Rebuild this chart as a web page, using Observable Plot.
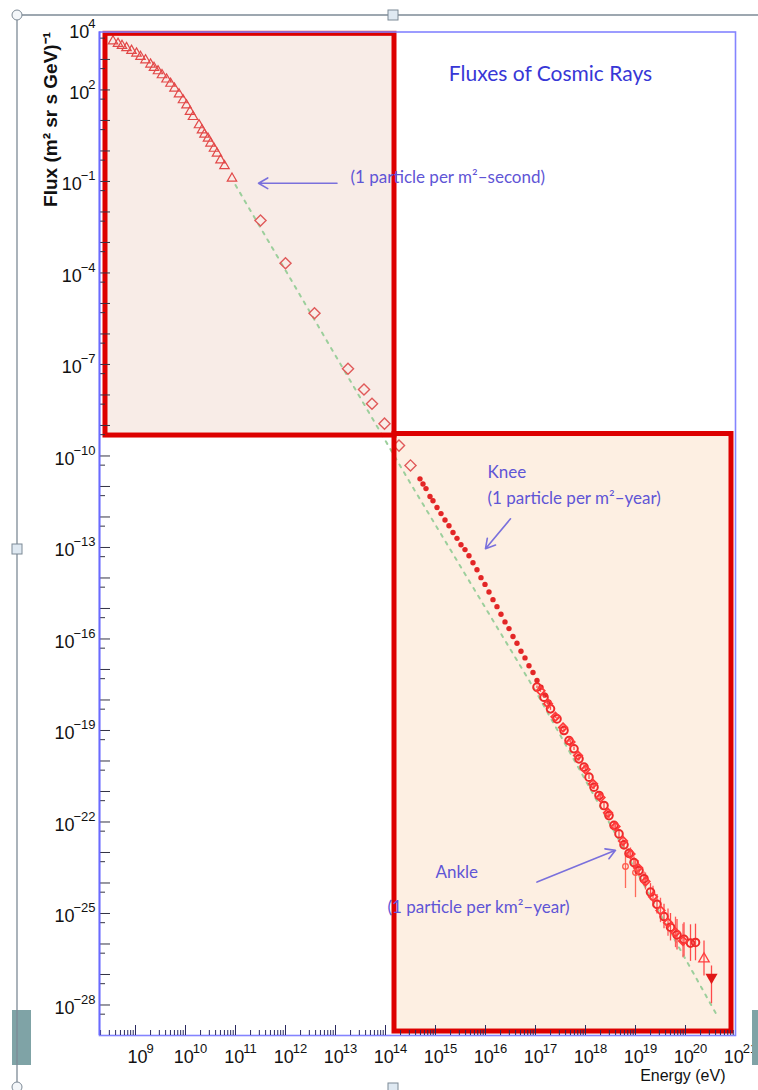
<!DOCTYPE html>
<html>
<head>
<meta charset="utf-8">
<script src="https://cdn.jsdelivr.net/npm/d3@7"></script>
<script src="https://cdn.jsdelivr.net/npm/@observablehq/plot@0.6"></script>
<style>
  html, body { margin: 0; padding: 0; background: #ffffff; }
  #wrap { position: relative; width: 758px; height: 1090px; overflow: hidden; }
  #wrap > svg { position: absolute; left: 0; top: 0; }
</style>
</head>
<body>
<div id="wrap"></div>
<script>
// ---------- DATA (log10 values) ----------
// direct measurements, low energy (open triangles)
const lowE = [8.55, 8.65, 8.73, 8.82, 8.92, 9.02, 9.10, 9.20, 9.30, 9.37, 9.45, 9.53, 9.62, 9.70, 9.78, 9.87, 9.95, 10.02, 10.09, 10.15, 10.27, 10.33, 10.38, 10.45, 10.50, 10.57, 10.63, 10.70, 10.78, 10.93];
const lowF = [3.60, 3.52, 3.45, 3.38, 3.29, 3.20, 3.09, 2.98, 2.84, 2.73, 2.62, 2.49, 2.35, 2.21, 2.05, 1.86, 1.67, 1.50, 1.29, 1.12, 0.85, 0.68, 0.54, 0.41, 0.25, 0.08, -0.08, -0.30, -0.49, -0.90];
// balloon / satellite (open diamonds)
const diaE = [11.50, 12.00, 12.58, 13.25, 13.57, 13.73, 13.98, 14.27, 14.50];
const diaF = [-2.28, -3.68, -5.32, -7.14, -7.82, -8.29, -8.94, -9.66, -10.31];
// air shower, knee region (small filled points)
const kneeE = [14.69, 14.75, 14.81, 14.89, 14.95, 15.03, 15.11, 15.19, 15.27, 15.35, 15.43, 15.51, 15.59, 15.67, 15.75, 15.83, 15.91, 15.99, 16.07, 16.15, 16.23, 16.31, 16.39, 16.47, 16.55, 16.63, 16.71, 16.79, 16.87, 16.95, 17.03, 17.11, 17.19, 17.27];
const kneeF = [-10.75, -10.92, -11.07, -11.33, -11.47, -11.69, -11.89, -12.10, -12.29, -12.51, -12.70, -12.91, -13.07, -13.27, -13.50, -13.73, -13.99, -14.21, -14.46, -14.71, -14.94, -15.19, -15.44, -15.66, -15.92, -16.14, -16.40, -16.62, -16.88, -17.10, -17.36, -17.58, -17.84, -18.07];
// ultra-high energy, series A (open circles with error bars)
const bandAE = [17.03, 17.17, 17.30, 17.43, 17.57, 17.67, 17.77, 17.87, 17.97, 18.07, 18.17, 18.27, 18.37, 18.47, 18.57, 18.67, 18.77, 18.87, 18.97, 19.07, 19.17, 19.30, 19.43, 19.57, 19.70, 19.83, 19.97, 20.10, 20.20];
const bandAF = [-17.58, -17.91, -18.29, -18.62, -19.00, -19.33, -19.60, -19.93, -20.20, -20.53, -20.86, -21.13, -21.46, -21.79, -22.11, -22.39, -22.75, -23.03, -23.33, -23.59, -23.86, -24.30, -24.70, -25.10, -25.45, -25.70, -25.85, -25.97, -25.95];
const bandAErr = [0.04, 0.04, 0.05, 0.05, 0.05, 0.06, 0.06, 0.07, 0.07, 0.08, 0.08, 0.09, 0.10, 0.10, 0.12, 0.12, 0.14, 0.15, 0.18, 0.20, 0.22, 0.28, 0.32, 0.40, 0.45, 0.50, 0.55, 0.60, 0.60];
// ultra-high energy, series B
const bandBE = [17.10, 17.25, 17.40, 17.55, 17.70, 17.85, 18.00, 18.15, 18.30, 18.45, 18.60, 18.75, 18.90, 19.05, 19.20, 19.35, 19.50, 19.65, 19.80, 19.95];
const bandBF = [-17.70, -18.12, -18.55, -18.90, -19.38, -19.82, -20.28, -20.75, -21.20, -21.70, -22.15, -22.62, -23.05, -23.50, -23.95, -24.45, -24.90, -25.30, -25.62, -25.90];
const bandBErr = [0.05, 0.05, 0.06, 0.06, 0.07, 0.07, 0.08, 0.09, 0.10, 0.12, 0.14, 0.16, 0.20, 0.24, 0.28, 0.34, 0.40, 0.45, 0.50, 0.55];
// points with long lower error bars near the ankle
const ankE = [18.80, 19.00];
const ankF = [-23.46, -23.66];
const ankLo = [-24.18, -24.48];
const ankHi = [-23.03, -23.26];
// highest-energy events
const uheE = [20.37, 20.52];
const uheF = [-26.49, -27.09];
const uheLo = [-27.05, -27.96];
const uheHi = [-25.90, -26.72];
// E^-2.7 reference (dashed green)
const refE = [11.0, 14.5, 17.03, 20.63];
const refF = [-1.12, -10.90, -17.79, -28.34];
// highlighted regions (log10 bounds)
const regionE1 = [8.40, 14.18];
const regionE2 = [14.18, 20.92];
const regionF1 = [-9.33, 3.84];
const regionF2 = [-28.87, -9.28];
// axis ticks
const xLabelExp = [9, 10, 11, 12, 13, 14, 15, 16, 17, 18, 19, 20, 21];
const yLabelExp = [4, 2, -1, -4, -7, -10, -13, -16, -19, -22, -25, -28];
// annotations
const noteText = ["(1 particle per m²–second)", "Knee", "(1 particle per m²–year)", "Ankle", "(1 particle per km²–year)"];
const noteE = [13.30, 16.04, 16.04, 15.00, 14.04];
const noteF = [-0.87, -10.54, -11.39, -23.66, -24.80];
const arrowE1 = [13.03, 16.50, 17.03];
const arrowF1 = [-1.06, -12.06, -23.97];
const arrowE2 = [11.46, 16.00, 18.60];
const arrowF2 = [-1.06, -13.04, -22.93];
const titleText = "Fluxes of Cosmic Rays";
const titleE = 17.3, titleF = 2.51;

// ---------- BUILD ----------
const P = v => Math.pow(10, v);
const pts = (E, F) => E.map((e, i) => ({E: P(e), F: P(F[i])}));
const lowPts = pts(lowE, lowF);
const diaPts = pts(diaE, diaF);
const kneePts = pts(kneeE, kneeF);
const bandA = bandAE.map((e, i) => ({E: P(e), F: P(bandAF[i]), lo: P(bandAF[i] - bandAErr[i]), hi: P(bandAF[i] + bandAErr[i])}));
const bandB = bandBE.map((e, i) => ({E: P(e), F: P(bandBF[i]), lo: P(bandBF[i] - bandBErr[i]), hi: P(bandBF[i] + bandBErr[i])}));
const ankPts = ankE.map((e, i) => ({E: P(e), F: P(ankF[i]), lo: P(ankLo[i]), hi: P(ankHi[i])}));
const uhePts = uheE.map((e, i) => ({E: P(e), F: P(uheF[i]), lo: P(uheLo[i]), hi: P(uheHi[i])}));
const refPts = pts(refE, refF);
const regions = [
  {x1: P(regionE1[0]), x2: P(regionE1[1]), y1: P(regionF1[0]), y2: P(regionF1[1]), fill: "#f8ece7"},
  {x1: P(regionE2[0]), x2: P(regionE2[1]), y1: P(regionF2[0]), y2: P(regionF2[1]), fill: "#fdefe2"}
];
const notes = noteText.map((t, i) => ({t, E: P(noteE[i]), F: P(noteF[i])}));
const arrows = arrowE1.map((e, i) => ({x1: P(e), y1: P(arrowF1[i]), x2: P(arrowE2[i]), y2: P(arrowF2[i])}));

const yMajor = d3.range(-28, 4).map(P);
const yMinor = d3.range(-29, 4).map(n => 5 * P(n));
const xMajor = d3.range(9, 21).map(P);
const xMinor = [];
for (let n = 8; n <= 20; n++) for (let k = 2; k <= 9; k++) { const v = k * P(n); if (v > P(8.28) && v < P(21)) xMinor.push(v); }

const sup = n => "10^" + String(n).replace("-", "−");

const RED = "#ee2a2a";
const chart = Plot.plot({
  width: 758, height: 1090,
  marginLeft: 99, marginRight: 23, marginTop: 31.5, marginBottom: 55,
  x: {type: "log", domain: [P(8.28), P(21)], axis: null},
  y: {type: "log", domain: [P(-29), P(3.9)], axis: null},
  style: {background: "transparent", fontFamily: "'Liberation Sans', Arial, sans-serif", overflow: "visible"},
  marks: [
    Plot.rect(regions, {x1: "x1", x2: "x2", y1: "y1", y2: "y2", fill: "fill"}),
    Plot.line(refPts, {x: "E", y: "F", stroke: "#9ccf9c", strokeWidth: 2, strokeDasharray: "3,6"}),
    Plot.dot(lowPts, {x: "E", y: "F", symbol: "triangle2", r: 4.5, stroke: "#e24848", strokeWidth: 1.2}),
    Plot.dot(diaPts, {x: "E", y: "F", symbol: "diamond2", r: 5, stroke: "#e05a5a", strokeWidth: 1.4}),
    Plot.dot(kneePts, {x: "E", y: "F", r: 2.7, fill: "#e32626"}),
    Plot.ruleX(bandA, {x: "E", y1: "lo", y2: "hi", stroke: "#ff4a4a", strokeWidth: 1.3}),
    Plot.ruleX(bandB, {x: "E", y1: "lo", y2: "hi", stroke: "#ff5a5a", strokeWidth: 1.3}),
    Plot.ruleX(ankPts, {x: "E", y1: "lo", y2: "hi", stroke: "#ff6a5a", strokeWidth: 1.3}),
    Plot.ruleX(uhePts, {x: "E", y1: "lo", y2: "hi", stroke: "#ff4a4a", strokeWidth: 1.3}),
    Plot.dot(bandA, {x: "E", y: "F", r: 3.8, stroke: RED, strokeWidth: 2}),
    Plot.dot(bandB, {x: "E", y: "F", r: 3.8, stroke: "#ff3a3a", strokeWidth: 1.8, symbol: "diamond2"}),
    Plot.dot(ankPts, {x: "E", y: "F", r: 2.8, stroke: "#ff5a4a", strokeWidth: 1.3}),
    Plot.dot(uhePts.slice(0, 1), {x: "E", y: "F", symbol: "triangle2", r: 5, stroke: "#ff4040", strokeWidth: 1.3}),
    Plot.dot(uhePts.slice(1), {x: "E", y: "F", symbol: "triangle", r: 4.5, fill: "#e01818", rotate: 180}),
    Plot.rect(regions, {x1: "x1", x2: "x2", y1: "y1", y2: "y2", fill: "none", stroke: "#dd0000", strokeWidth: 5}),
    Plot.frame({stroke: "#8484ff", strokeWidth: 1.6}),
    Plot.axisY(yMajor, {anchor: "left", tickSize: -11, fill: "none", stroke: "#333344", label: null}),
    Plot.axisY(yMinor, {anchor: "left", tickSize: -6, fill: "none", stroke: "#333344", label: null}),
    Plot.axisX(xMajor, {anchor: "bottom", tickSize: -10, fill: "none", stroke: "#2a2a60", label: null}),
    Plot.axisX(xMinor, {anchor: "bottom", tickSize: -5, fill: "none", stroke: "#2a2a60", label: null}),
    Plot.ruleX([P(8.28)], {stroke: "#6a6aff", strokeWidth: 1.8}),
    Plot.text(yLabelExp, {y: d => P(d), text: d => sup(d), frameAnchor: "left", dx: -4, dy: 3, textAnchor: "end", fontSize: 18, fill: "#111"}),
    Plot.text(xLabelExp, {x: d => P(d), text: d => sup(d), frameAnchor: "bottom", dx: 5, dy: 27, textAnchor: "middle", fontSize: 18, fill: "#111"}),
    Plot.text(["Flux (m² sr s GeV)⁻¹"], {frameAnchor: "top-left", dx: -56, dy: 0, rotate: -90, textAnchor: "end", fontSize: 19, fontWeight: "bold", fill: "#111"}),
    Plot.text(["Energy (eV)"], {frameAnchor: "bottom-right", dx: -10, dy: 45, textAnchor: "end", fontSize: 16, fill: "#111"}),
    Plot.text([titleText], {x: () => P(titleE), y: () => P(titleF), text: d => d, textAnchor: "middle", fontSize: 21, fill: "#3737d6", fontFamily: "Lato, 'Open Sans', sans-serif"}),
    Plot.text(notes, {x: "E", y: "F", text: "t", textAnchor: "start", fontSize: 17, fill: "#5f55d6", fontFamily: "Lato, 'Open Sans', sans-serif"}),
    Plot.arrow(arrows, {x1: "x1", y1: "y1", x2: "x2", y2: "y2", stroke: "#7a70dc", strokeWidth: 1.6, headLength: 10})
  ]
});

// turn "10^n" tick labels into real superscripts
const NS = "http://www.w3.org/2000/svg";
chart.querySelectorAll("text").forEach(t => {
  const s = t.textContent;
  if (!s.includes("^")) return;
  const [b, e] = s.split("^");
  while (t.firstChild) t.removeChild(t.firstChild);
  const t1 = document.createElementNS(NS, "tspan"); t1.textContent = b;
  const t2 = document.createElementNS(NS, "tspan"); t2.textContent = e;
  t2.setAttribute("font-size", 13); t2.setAttribute("dx", -1); t2.setAttribute("dy", -10);
  t.append(t1, t2);
});

const wrap = document.getElementById("wrap");
wrap.appendChild(chart);

// slide selection frame around the picture (decoration)
const deco = d3.create("svg").attr("width", 758).attr("height", 1090).style("pointer-events", "none");
deco.append("rect").attr("x", 12).attr("y", 1010).attr("width", 19).attr("height", 55).attr("fill", "#7fa3a6");
deco.append("rect").attr("x", 752).attr("y", 1010).attr("width", 8).attr("height", 55).attr("fill", "#7fa3a6");
deco.append("line").attr("x1", 17).attr("x2", 758).attr("y1", 15).attr("y2", 15).attr("stroke", "#7d8a96").attr("stroke-width", 1.3);
deco.append("line").attr("x1", 17).attr("x2", 17).attr("y1", 15).attr("y2", 1090).attr("stroke", "#7d8a96").attr("stroke-width", 1.3);
deco.append("circle").attr("cx", 17).attr("cy", 15).attr("r", 5).attr("fill", "#f4f7fa").attr("stroke", "#7d8a96");
deco.append("circle").attr("cx", 17).attr("cy", 1087).attr("r", 5).attr("fill", "#f4f7fa").attr("stroke", "#7d8a96");
deco.append("rect").attr("x", 388).attr("y", 10).attr("width", 10).attr("height", 10).attr("fill", "#dfe9f2").attr("stroke", "#7d8a96");
deco.append("rect").attr("x", 12).attr("y", 544).attr("width", 10).attr("height", 10).attr("fill", "#dfe9f2").attr("stroke", "#7d8a96");
deco.append("rect").attr("x", 388).attr("y", 1083).attr("width", 10).attr("height", 10).attr("fill", "#dfe9f2").attr("stroke", "#7d8a96");
wrap.appendChild(deco.node());
</script>
</body>
</html>
